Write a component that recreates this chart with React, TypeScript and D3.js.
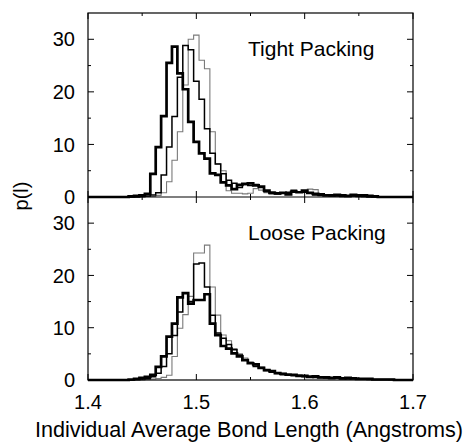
import React from "react";
import * as d3 from "d3";

// Histogram bins: first bin centre and bin width (Angstroms)
const binStart = 1.44;
const binWidth = 0.005;

// Tight packing (top panel)
const topThick = [0.1,0.2,0.3,0.6,4.4,9.5,15.4,25.5,28.6,23.5,20.5,14.3,10.5,8.3,7.3,4.5,4.2,2.8,2.2,1.5,2.3,2.5,2.6,2.2,2.0,1.2,0.8,0.7,0.8,0.5,1.0,0.9,1.2,0.8,0.6,0.5,0.3,0.3,0.4,0.3,0.2,0.4,0.3,0.3,0.2,0.1,0,0,0,0,0];
const topMedium = [0,0,0.1,0.2,0.4,0.8,4.2,9.5,15.3,22.8,28.8,28.0,22.0,18.6,13.0,8.3,6.3,4.4,3.2,2.6,1.8,2.4,2.2,2.4,1.8,1.0,0.9,0.6,0.8,0.9,1.3,1.0,0.9,0.7,0.4,0.3,0.3,0.2,0.2,0.1,0.1,0.2,0.1,0.1,0,0,0,0,0,0,0];
const topThin = [0,0,0,0.1,0.1,0.3,0.8,2.9,7.0,12.4,21.3,30.0,30.8,26.0,24.4,12.4,6.3,5.0,1.2,0.7,0.7,0.6,0.7,1.6,1.3,0.8,0.6,0.5,0.8,0.7,1.0,0.9,1.0,1.5,1.4,0.6,0.4,0.3,0.2,0.2,0.1,0.1,0.1,0,0,0,0,0,0,0,0];

// Loose packing (bottom panel)
const botThick = [0.1,0.2,0.4,0.6,1.0,2.5,4.5,8.3,10.8,15.8,16.6,14.6,15.3,15.3,16.4,10.8,8.6,6.5,6.0,5.1,4.5,3.8,3.2,3.0,2.3,1.9,1.7,1.3,1.2,1.0,1.0,0.8,0.8,0.6,0.7,0.5,0.5,0.4,0.5,0.3,0.4,0.3,0.2,0.2,0.2,0.1,0.1,0.1,0.1,0,0];
const botMedium = [0,0.1,0.2,0.3,0.6,1.3,2.6,5.0,8.5,13.0,16.7,15.0,22.2,22.4,17.8,12.4,9.0,8.0,6.8,5.8,4.8,3.8,3.3,2.6,2.4,1.8,1.5,1.4,1.0,1.1,0.8,0.9,0.6,0.7,0.5,0.5,0.4,0.3,0.4,0.3,0.2,0.3,0.2,0.2,0.1,0.1,0.1,0.1,0.1,0,0];
const botThin = [0,0,0,0.1,0.2,0.3,0.5,0.9,4.5,9.9,12.5,16.0,24.3,24.3,25.8,17.8,12.4,8.6,7.5,6.0,5.0,4.2,3.5,2.8,2.2,2.0,1.6,1.2,1.3,0.9,1.0,0.7,0.8,0.6,0.5,0.4,0.4,0.3,0.3,0.2,0.3,0.2,0.2,0.1,0.2,0.1,0.1,0.1,0,0,0];

const xTicksMajor = [1.4, 1.5, 1.6, 1.7];
const xTicksMinor = [1.45, 1.55, 1.65];
const yTicksMajor = [0, 10, 20, 30];
const yTicksMinor = [5, 15, 25];
const panelLabels = ["Tight Packing", "Loose Packing"];
const xTitle = "Individual Average Bond Length (Angstroms)";
const yTitle = "p(l)";

const FONT = "'Liberation Sans', Arial, Helvetica, sans-serif";

const left = 88, right = 413, top = 13, mid = 197, bottom = 380;

const x = d3.scaleLinear().domain([1.4, 1.7]).range([left, right]);
const yTop = d3.scaleLinear().domain([0, 35]).range([mid, top]);
const yBot = d3.scaleLinear().domain([0, 35]).range([bottom, mid]);

function stepPath(values: number[], y: d3.ScaleLinear<number, number>) {
  const pts: [number, number][] = [[1.4, 0]];
  values.forEach((v, i) => {
    const e = binStart + i * binWidth - binWidth / 2;
    pts.push([e, v]);
  });
  pts.push([binStart + values.length * binWidth - binWidth / 2, 0]);
  pts.push([1.7, 0]);
  const line = d3
    .line<[number, number]>()
    .x((d) => x(Math.min(1.7, d[0])))
    .y((d) => y(d[1]))
    .curve(d3.curveStepAfter);
  return line(pts) || "";
}

const series = [
  { key: "thin", stroke: "#7a7a7a", width: 1.1 },
  { key: "medium", stroke: "#000", width: 1.5 },
  { key: "thick", stroke: "#000", width: 2.7 },
];

function Panel({ y, data, label, labelY }: any) {
  const y0 = y.range()[0];
  const y1 = y.range()[1];
  return (
    <g>
      {series.map((s, i) => (
        <path key={s.key} d={stepPath(data[i], y)} fill="none" stroke={s.stroke} strokeWidth={s.width} strokeLinejoin="miter" />
      ))}
      {yTicksMajor.map((t) => (
        <g key={"M" + t}>
          <line x1={left} x2={left + 6} y1={y(t)} y2={y(t)} stroke="#000" strokeWidth={1} />
          <line x1={right - 6} x2={right} y1={y(t)} y2={y(t)} stroke="#000" strokeWidth={1} />
          <text x={75} y={y(t)} dy="0.36em" textAnchor="end" fontFamily={FONT} fontSize={20}>{t}</text>
        </g>
      ))}
      {yTicksMinor.map((t) => (
        <g key={"m" + t}>
          <line x1={left} x2={left + 3} y1={y(t)} y2={y(t)} stroke="#000" strokeWidth={1} />
          <line x1={right - 3} x2={right} y1={y(t)} y2={y(t)} stroke="#000" strokeWidth={1} />
        </g>
      ))}
      {xTicksMajor.map((t) => (
        <g key={"xM" + t}>
          <line x1={x(t)} x2={x(t)} y1={y0} y2={y0 - 6} stroke="#000" strokeWidth={1} />
          <line x1={x(t)} x2={x(t)} y1={y1} y2={y1 + 6} stroke="#000" strokeWidth={1} />
        </g>
      ))}
      {xTicksMinor.map((t) => (
        <g key={"xm" + t}>
          <line x1={x(t)} x2={x(t)} y1={y0} y2={y0 - 3} stroke="#000" strokeWidth={1} />
          <line x1={x(t)} x2={x(t)} y1={y1} y2={y1 + 3} stroke="#000" strokeWidth={1} />
        </g>
      ))}
      <text x={248} y={labelY} fontFamily={FONT} fontSize={21}>{label}</text>
    </g>
  );
}

export default function App() {
  return (
    <svg width={463} height={445} style={{ display: "block", position: "absolute", left: 0, top: 0 }}>
      <rect x={0} y={0} width={463} height={445} fill="#fff" />
      <Panel y={yTop} data={[topThin, topMedium, topThick]} label={panelLabels[0]} labelY={56} />
      <Panel y={yBot} data={[botThin, botMedium, botThick]} label={panelLabels[1]} labelY={240} />
      <rect x={left} y={top} width={right - left} height={bottom - top} fill="none" stroke="#000" strokeWidth={1.2} />
      <line x1={left} x2={right} y1={mid} y2={mid} stroke="#000" strokeWidth={1.2} />
      {xTicksMajor.map((t) => (
        <text key={t} x={x(t)} y={409} textAnchor="middle" fontFamily={FONT} fontSize={20}>{t.toFixed(1)}</text>
      ))}
      <text x={249} y={437} textAnchor="middle" fontFamily={FONT} fontSize={21.6}>{xTitle}</text>
      <text transform="translate(21,196) rotate(-90)" textAnchor="middle" dy="0.36em" fontFamily={FONT} fontSize={20}>{yTitle}</text>
    </svg>
  );
}
